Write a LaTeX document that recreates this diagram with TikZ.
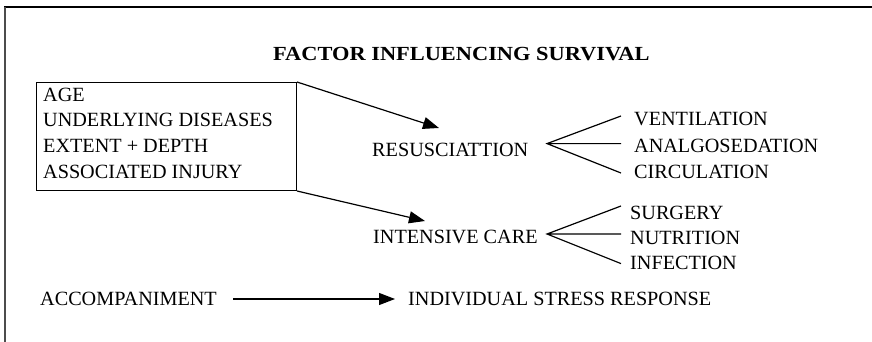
\documentclass[tikz,border=0pt]{standalone}
\usepackage{fontspec}
\setmainfont{Liberation Serif}
\newfontfamily\ttlfont[FakeStretch=1.12]{Liberation Serif}
\usetikzlibrary{arrows.meta}
\begin{document}
\begin{tikzpicture}[x=1pt,y=-1pt,
  lbl/.style={anchor=base west,inner sep=0pt,font=\fontsize{20.2}{22}\selectfont},
  ttl/.style={anchor=base west,inner sep=0pt,font=\ttlfont\fontsize{20}{22}\selectfont\bfseries},
  arr/.style={line width=1.2pt,-{Triangle[length=16pt,width=12pt]}},
  fork/.style={line width=1.2pt}]
\useasboundingbox (0,0) rectangle (872,342);
\draw[line width=1.5pt] (4,7) -- (872,7);
\draw[line width=2pt,black!70] (4.5,7) -- (4.5,342);
\node[ttl] (title) at (273,61) {FACTOR INFLUENCING SURVIVAL};
\node[draw,line width=1pt,anchor=north west,minimum width=260pt,minimum height=108pt,inner sep=0pt] (box) at (36,82) {};
\node[lbl] (age) at (43,101.7) {AGE};
\node[lbl] (und) at (43,126.7) {UNDERLYING DISEASES};
\node[lbl] (ext) at (43,152.3) {EXTENT + DEPTH};
\node[lbl] (ass) at (43,178) {ASSOCIATED INJURY};
\node[lbl] (res) at (372,156) {RESUSCIATTION};
\node[lbl] (ven) at (634,125.6) {VENTILATION};
\node[lbl] (ana) at (634,152.7) {ANALGOSEDATION};
\node[lbl] (cir) at (634,178.8) {CIRCULATION};
\node[lbl] (ic) at (373,243) {INTENSIVE CARE};
\node[lbl] (sur) at (630,219) {SURGERY};
\node[lbl] (nut) at (630,244) {NUTRITION};
\node[lbl] (inf) at (630,269) {INFECTION};
\node[lbl] (acc) at (40,305) {ACCOMPANIMENT};
\node[lbl] (isr) at (408,305) {INDIVIDUAL STRESS RESPONSE};
\coordinate (resin) at (439,128);
\coordinate (icin) at (425,221);
\draw[arr] (box.north east) -- (resin);
\draw[arr] (box.south east) -- (icin);
\coordinate (ra) at (547,143.6);
\coordinate (rv) at (621,116);
\coordinate (rn) at (621,143.6);
\coordinate (rc) at (621,173);
\draw[fork] (rv) -- (ra) -- (rc) (ra) -- (rn);
\coordinate (ia) at (547,234);
\coordinate (is) at (621,206);
\coordinate (in) at (621,234);
\coordinate (ii) at (621,263.6);
\draw[fork] (is) -- (ia) -- (ii) (ia) -- (in);
\coordinate (accout) at (233,299);
\coordinate (isrin) at (395,299);
\draw[arr] (accout) -- (isrin);
\end{tikzpicture}
\end{document}
